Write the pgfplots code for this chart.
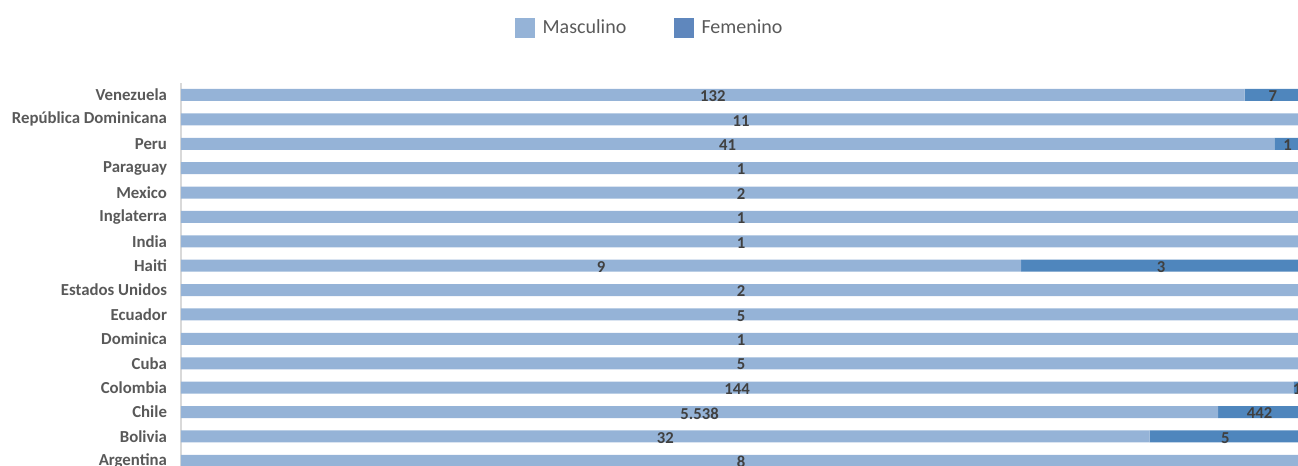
\documentclass[border=0pt]{standalone}
\usepackage{pgfplots}
\usepackage{pgfplotstable}
\usepackage{fontspec}
\setmainfont{Carlito}
\pgfplotsset{compat=1.18}
\definecolor{masc}{HTML}{95B3D7}
\definecolor{fem}{HTML}{4F86BD}
\definecolor{femleg}{HTML}{5F87BD}
\definecolor{lab}{HTML}{595959}
\definecolor{val}{HTML}{404040}
\definecolor{axl}{HTML}{D9D9D9}

\pgfplotstableread{
pos m f mlab
0 8 0 8
1 32 5 32
2 5538 442 5.538
3 144 1 144
4 5 0 5
5 1 0 1
6 5 0 5
7 2 0 2
8 9 3 9
9 1 0 1
10 1 0 1
11 2 0 2
12 1 0 1
13 41 1 41
14 11 0 11
15 132 7 132
}\data

\pgfplotstableread{
pos m f
1 32 5
2 5538 442
3 144 1
8 9 3
13 41 1
15 132 7
}\fdata

\begin{document}
\begin{tikzpicture}
\begin{axis}[
  at={(0,0)}, anchor=south west,
  scale only axis, width=840pt, height=292.65pt,
  xbar stacked, bar width=9pt,
  xmin=0, xmax=100, ymin=-0.5, ymax=15.5,
  ytick={0,...,15},
  yticklabels={Argentina,Bolivia,Chile,Colombia,Cuba,Dominica,Ecuador,Estados Unidos,Haiti,India,Inglaterra,Mexico,Paraguay,Peru,República Dominicana,Venezuela},
  axis x line=none,
  axis y line*=left,
  y axis line style={draw=axl, line width=0.8pt},
  major tick length=0pt,
  xtick=\empty,
  yticklabel style={font=\fontsize{12.6}{14}\selectfont\bfseries, text=lab, xshift=-7pt},
]
\addplot[draw=none, fill=masc] table[x expr={100*\thisrow{m}/(\thisrow{m}+\thisrow{f})}, y=pos] {\data};
\addplot[draw=none, fill=fem] table[x expr={100*\thisrow{f}/(\thisrow{m}+\thisrow{f})}, y=pos] {\data};
\end{axis}
\begin{axis}[
  at={(0,0)}, anchor=south west,
  scale only axis, width=840pt, height=292.65pt,
  xmin=0, xmax=100, ymin=-0.5, ymax=15.5,
  hide axis, clip=false,
  legend columns=2,
  legend style={at={(0.419,1.1405)}, anchor=center, draw=none, fill=none,
    font=\fontsize{15}{17}\selectfont, text=lab,
    /tikz/every odd column/.append style={column sep=4pt},
    /tikz/every even column/.append style={column sep=34pt}},
  legend cell align=left,
]
\addlegendimage{legend image code/.code={\fill[masc] (0pt,-7pt) rectangle (14pt,7pt);}}
\addlegendentry{Masculino}
\addlegendimage{legend image code/.code={\fill[femleg] (0pt,-7pt) rectangle (14pt,7pt);}}
\addlegendentry{Femenino}
\addplot[forget plot, only marks, mark=none, point meta=explicit symbolic,
  nodes near coords, every node near coord/.append style={anchor=center, yshift=-1pt, text=val, font=\fontsize{12.5}{14}\selectfont\bfseries}]
  table[x expr={50*\thisrow{m}/(\thisrow{m}+\thisrow{f})}, y=pos, meta=mlab] {\data};
\addplot[forget plot, only marks, mark=none, point meta=explicit symbolic,
  nodes near coords, every node near coord/.append style={anchor=center, yshift=-1pt, text=val, font=\fontsize{12.5}{14}\selectfont\bfseries}]
  table[x expr={50+50*\thisrow{m}/(\thisrow{m}+\thisrow{f})}, y=pos, meta=f] {\fdata};
\end{axis}
\pgfresetboundingbox
\path[use as bounding box] (-135.75pt,5.25pt) rectangle (837.75pt,354.75pt);
\end{tikzpicture}
\end{document}
